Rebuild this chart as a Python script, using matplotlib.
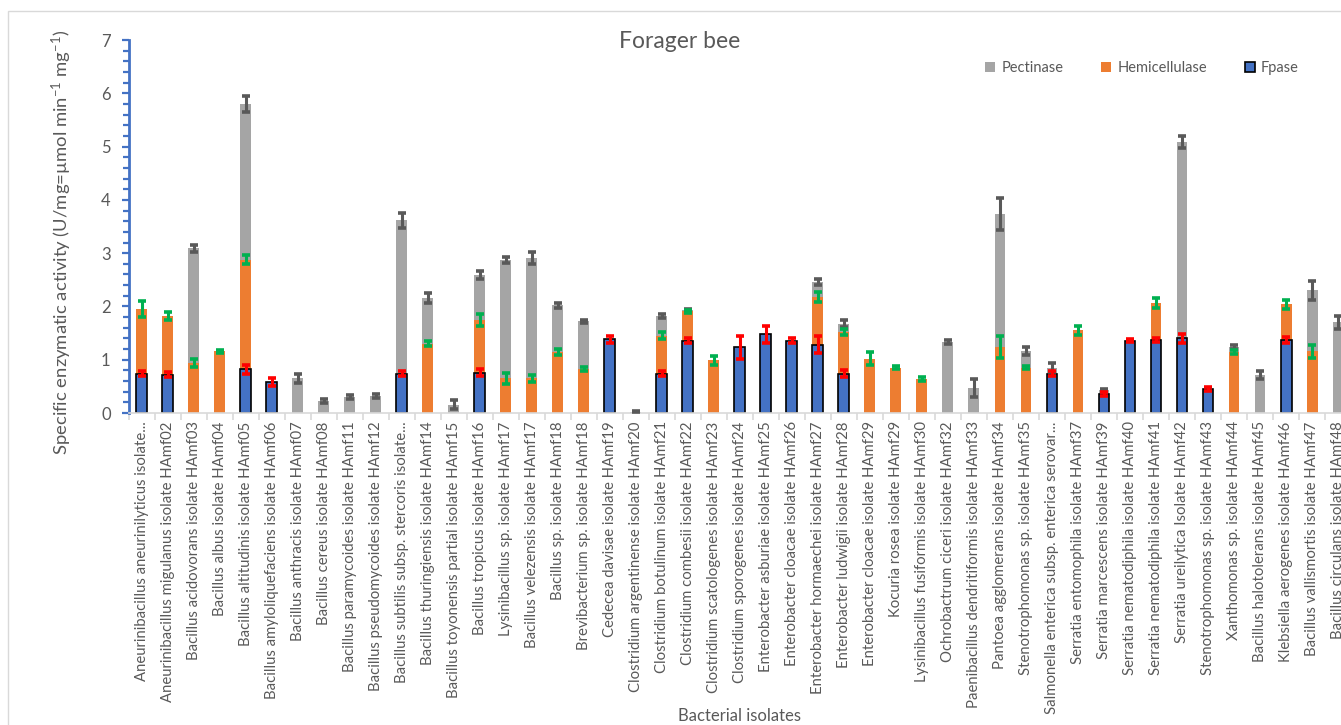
import numpy as np
import matplotlib.pyplot as plt
import matplotlib.patches as patches

plt.rcParams['font.family'] = ['Lato', 'DejaVu Sans']
plt.rcParams['mathtext.fontset'] = 'custom'
plt.rcParams['mathtext.rm'] = 'Lato'
plt.rcParams['mathtext.it'] = 'Lato:italic'

# Datos
aislados = [
    'Aneurinibacillus aneurinilyticus isolate...',
    'Aneurinibacillus migulanus isolate HAmf02',
    'Bacillus acidovorans isolate HAmf03',
    'Bacillus albus isolate HAmf04',
    'Bacillus altitudinis isolate HAmf05',
    'Bacillus amyloliquefaciens isolate HAmf06',
    'Bacillus anthracis isolate HAmf07',
    'Bacillus cereus isolate HAmf08',
    'Bacillus paramycoides isolate HAmf11',
    'Bacillus pseudomycoides isolate HAmf12',
    'Bacillus subtilis subsp. stercoris isolate...',
    'Bacillus thuringiensis isolate HAmf14',
    'Bacillus toyonensis partial isolate HAmf15',
    'Bacillus tropicus isolate HAmf16',
    'Lysinibacillus sp. isolate HAmf17',
    'Bacillus velezensis isolate HAmf17',
    'Bacillus sp. isolate HAmf18',
    'Brevibacterium sp. isolate HAmf18',
    'Cedecea davisae isolate HAmf19',
    'Clostridium argentinense isolate HAmf20',
    'Clostridium botulinum isolate HAmf21',
    'Clostridium combesii isolate HAmf22',
    'Clostridium scatologenes isolate HAmf23',
    'Clostridium sporogenes isolate HAmf24',
    'Enterobacter asburiae isolate HAmf25',
    'Enterobacter cloacae isolate HAmf26',
    'Enterobacter hormaechei isolate HAmf27',
    'Enterobacter ludwigii isolate HAmf28',
    'Enterobacter cloacae isolate HAmf29',
    'Kocuria rosea isolate HAmf29',
    'Lysinibacillus fusiformis isolate HAmf30',
    'Ochrobactrum ciceri isolate HAmf32',
    'Paenibacillus dendritiformis isolate HAmf33',
    'Pantoea agglomerans isolate HAmf34',
    'Stenotrophomonas sp. isolate HAmf35',
    'Salmonella enterica subsp. enterica serovar...',
    'Serratia entomophila isolate HAmf37',
    'Serratia marcescens isolate HAmf39',
    'Serratia nematodiphila isolate HAmf40',
    'Serratia nematodiphila isolate HAmf41',
    'Serratia ureilytica Isolate HAmf42',
    'Stenotrophomonas sp. isolate HAmf43',
    'Xanthomonas sp. isolate HAmf44',
    'Bacillus halotolerans isolate HAmf45',
    'Klebsiella aerogenes isolate HAmf46',
    'Bacillus vallismortis isolate HAmf47',
    'Bacillus circulans isolate HAmf48',
]

pectinasa = [0, 0, 3.09, 0, 5.80, 0, 0.65, 0.22, 0.30, 0.32,
             3.62, 2.16, 0.16, 2.59, 2.87, 2.91, 2.02, 1.72, 0, 0.02,
             1.82, 1.93, 0, 0, 0, 0, 2.46, 1.68, 0, 0,
             0, 1.33, 0.47, 3.73, 1.16, 0.85, 0, 0.43, 0, 0,
             5.08, 0, 1.24, 0.71, 0, 2.30, 1.70]
pectinasa_err = [0, 0, 0.07, 0, 0.15, 0, 0.08, 0.04, 0.03, 0.04,
                 0.14, 0.09, 0.08, 0.08, 0.06, 0.12, 0.05, 0.03, 0, 0.01,
                 0.04, 0.03, 0, 0, 0, 0, 0.06, 0.06, 0, 0,
                 0, 0.04, 0.17, 0.30, 0.08, 0.08, 0, 0.03, 0, 0,
                 0.11, 0, 0.03, 0.08, 0, 0.17, 0.12]

hemicelulasa = [1.95, 1.82, 0.94, 1.16, 2.88, 0, 0, 0, 0, 0,
                0, 1.30, 0, 1.74, 0.65, 0.65, 1.14, 0.83, 0, 0,
                1.45, 1.91, 0.99, 0, 0, 0, 2.18, 1.52, 1.02, 0.85,
                0.64, 0, 0, 1.24, 0.85, 0, 1.55, 0, 0, 2.07,
                0, 0, 1.15, 0, 2.04, 1.16, 0]
hemicelulasa_err = [0.15, 0.07, 0.08, 0.03, 0.09, 0, 0, 0, 0, 0,
                    0, 0.05, 0, 0.11, 0.10, 0.07, 0.06, 0.04, 0, 0,
                    0.07, 0.03, 0.08, 0, 0, 0, 0.09, 0.05, 0.12, 0.03,
                    0.03, 0, 0, 0.20, 0.03, 0, 0.09, 0, 0, 0.09,
                    0, 0, 0.04, 0, 0.08, 0.12, 0]

fpasa = [0.74, 0.72, 0, 0, 0.82, 0.58, 0, 0, 0, 0,
         0.74, 0, 0, 0.76, 0, 0, 0, 0, 1.38, 0,
         0.74, 1.36, 0, 1.23, 1.48, 1.36, 1.28, 0.74, 0, 0,
         0, 0, 0, 0, 0, 0.74, 0, 0.36, 1.36, 1.37,
         1.40, 0.45, 0, 0, 1.37, 0, 0]
fpasa_err = [0.05, 0.05, 0, 0, 0.09, 0.08, 0, 0, 0, 0,
             0.05, 0, 0, 0.07, 0, 0, 0, 0, 0.06, 0,
             0.05, 0.04, 0, 0.21, 0.16, 0.04, 0.16, 0.07, 0, 0,
             0, 0, 0, 0, 0, 0.04, 0, 0.04, 0.03, 0.04,
             0.09, 0.04, 0, 0, 0.05, 0, 0]

gris = '#A5A5A5'
naranja = '#ED7D31'
azul = '#4472C4'
texto = '#595959'

fig = plt.figure(figsize=(13.41, 7.25), dpi=100)
# el area de trazado sigue un poco mas alla del borde derecho
ax = fig.add_axes([0.096, 0.4303, 0.9115, 0.5145])

x = np.arange(len(aislados))
ancho = 0.42


def serie(vals, errs, color, ecolor, label, edge=None):
    vals = np.array(vals, dtype=float)
    errs = np.array(errs, dtype=float)
    m = vals > 0
    if edge:
        ax.bar(x[m], vals[m], ancho, color=color, edgecolor=edge,
               linewidth=1.2, label=label, zorder=2)
    else:
        ax.bar(x[m], vals[m], ancho, color=color, linewidth=0,
               label=label, zorder=2)
    ax.errorbar(x[m], vals[m], yerr=errs[m], fmt='none', ecolor=ecolor,
                elinewidth=2.2, capsize=3.2, capthick=2.6, zorder=3)


serie(pectinasa, pectinasa_err, gris, '#595959', 'Pectinase')
serie(hemicelulasa, hemicelulasa_err, naranja, '#00B050', 'Hemicellulase')
serie(fpasa, fpasa_err, azul, '#FF0000', 'Fpase', edge='black')

ax.set_xlim(-0.5, 46.5)
ax.set_ylim(0, 7)

for s in ['top', 'right']:
    ax.spines[s].set_visible(False)
ax.spines['left'].set_color(azul)
ax.spines['left'].set_linewidth(2)
ax.spines['bottom'].set_color('#D9D9D9')
ax.spines['bottom'].set_linewidth(1.2)

ax.set_yticks(np.arange(0, 8, 1))
ax.set_yticks(np.arange(0, 7.01, 0.2), minor=True)
ax.tick_params(axis='y', which='major', colors=azul, labelcolor=texto,
               length=5, width=1.6, labelsize=12, pad=8)
ax.tick_params(axis='y', which='minor', colors=azul, length=4, width=1.6)

# marcas del eje x entre categorias
ax.set_xticks(x)
ax.set_xticklabels(aislados, rotation=90, fontsize=10.7, color=texto)
ax.set_xticks(np.arange(-0.5, 47, 1), minor=True)
ax.tick_params(axis='x', which='major', length=0, pad=6)
ax.tick_params(axis='x', which='minor', length=5, width=1.2, color='#D9D9D9')

fig.text(680 / 1341, 1 - 42 / 725, 'Forager bee', ha='center', va='center',
         fontsize=16.5, color=texto)
fig.text(62 / 1341, 1 - 242 / 725,
         r'Specific enzymatic activity (U/mg=µmol min$^{-1}$ mg$^{-1}$)',
         rotation=90, ha='center', va='center', fontsize=13.3, color=texto)
fig.text(740 / 1341, 1 - 716 / 725, 'Bacterial isolates', ha='center',
         va='center', fontsize=12, color=texto)

fig.legend(loc='center', bbox_to_anchor=(1142 / 1341, 1 - 68 / 725), ncol=3,
           frameon=False, fontsize=10.5, handlelength=0.7, handleheight=0.7,
           handletextpad=0.4, columnspacing=2.6, labelcolor=texto)

# borde del grafico
fig.patches.append(patches.Rectangle((8 / 1341, -0.1), 1.1, 1 - 11 / 725 + 0.1,
                                     transform=fig.transFigure, fill=False,
                                     edgecolor='#D9D9D9', linewidth=1))

fig.savefig('out.png', dpi=100)
